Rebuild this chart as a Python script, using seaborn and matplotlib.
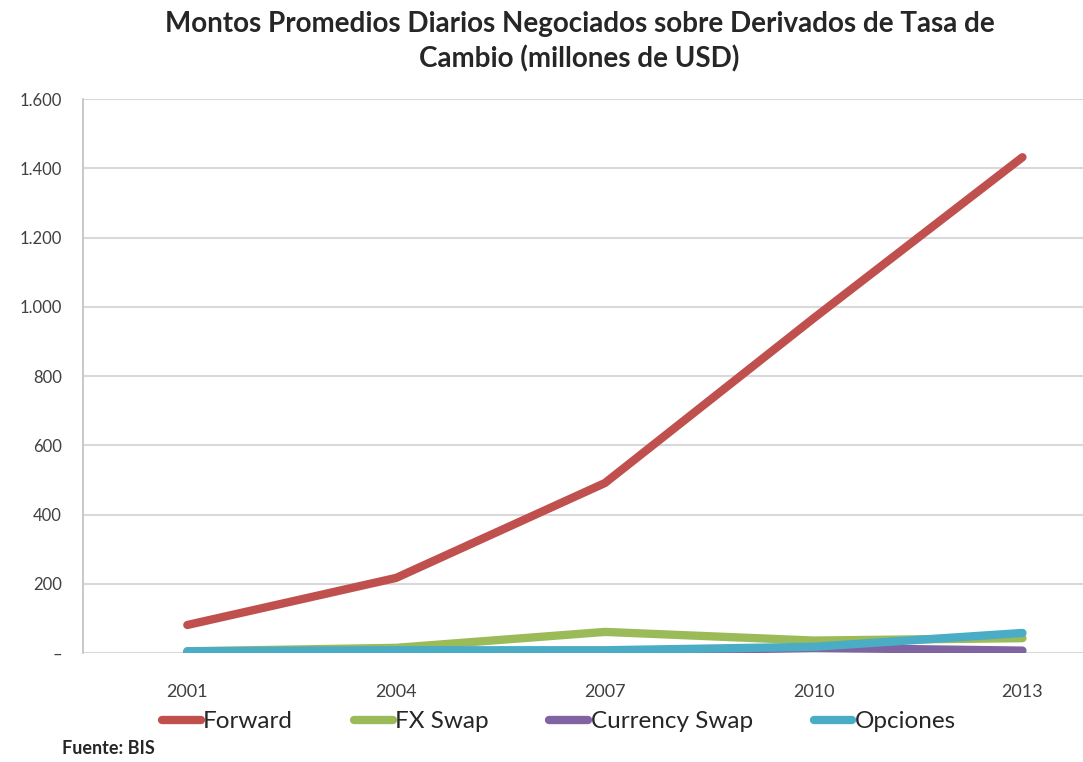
import numpy as np
import pandas as pd
import matplotlib.pyplot as plt
import seaborn as sns
from matplotlib.ticker import FuncFormatter, FixedLocator

# datos (millones de USD)
anios = ['2001', '2004', '2007', '2010', '2013']
forward = [81, 217, 491, 967, 1432]
fx_swap = [5, 15, 61, 36, 43]
currency_swap = [1, 2, 3, 15, 7]
opciones = [5, 8, 8, 18, 58]

series = ['Forward', 'FX Swap', 'Currency Swap', 'Opciones']
colores = ['#C0504D', '#9BBB59', '#8064A2', '#4BACC6']

df = pd.DataFrame({
    'pos': list(range(len(anios))) * 4,
    'valor': forward + fx_swap + currency_swap + opciones,
    'serie': np.repeat(series, len(anios)),
})

sns.set_style('white')
plt.rcParams['font.family'] = ['Lato', 'DejaVu Sans']

fig = plt.figure(figsize=(10.83, 7.62), dpi=100)
ax = fig.add_axes([0.0766, 0.143, 0.9234, 0.727])

sns.lineplot(data=df, x='pos', y='valor', hue='serie', hue_order=series,
             palette=colores, linewidth=6, ax=ax, legend=True,
             solid_capstyle='round')

ax.set_xlim(-0.5, 4.29)
ax.set_ylim(0, 1600)
ax.set_yticks(range(0, 1601, 200))
ax.yaxis.set_major_formatter(FuncFormatter(
    lambda v, p: '–' if v == 0 else f'{int(v):,}'.replace(',', '.')))
ax.grid(axis='y', color='#D9D9D9', linewidth=1.5)
ax.set_axisbelow(True)

ax.set_xticks(range(len(anios)))
ax.set_xticklabels(anios)
ax.xaxis.set_minor_locator(FixedLocator([-0.5, 0.5, 1.5, 2.5, 3.5]))
ax.tick_params(axis='x', which='major', length=0, pad=22, labelsize=13, labelcolor='#404040')
ax.tick_params(axis='x', which='minor', length=5, width=1, color='#BFBFBF', direction='out')
ax.tick_params(axis='y', length=4, width=1.5, color='#D9D9D9', direction='out',
               labelsize=12, labelcolor='#404040', pad=11)

for s in ['top', 'right', 'bottom']:
    ax.spines[s].set_visible(False)
ax.spines['left'].set_color('#BFBFBF')
ax.spines['left'].set_linewidth(1.2)
ax.set_xlabel('')
ax.set_ylabel('')

handles, labels = ax.get_legend_handles_labels()
ax.legend(handles, labels, loc='center', bbox_to_anchor=(0.516, 0.053),
          bbox_transform=fig.transFigure, ncol=4, frameon=False,
          fontsize=17.5, handlelength=1.6, handletextpad=0.1, columnspacing=2.5)

fig.text(0.535, 0.985, 'Montos Promedios Diarios Negociados sobre Derivados de Tasa de\nCambio (millones de USD)',
         ha='center', va='top', fontsize=20, fontweight='bold', linespacing=1.35)
fig.text(0.057, 0.006, 'Fuente: BIS', ha='left', va='bottom', fontsize=13, fontweight='bold')

fig.savefig('out.png', dpi=100)
